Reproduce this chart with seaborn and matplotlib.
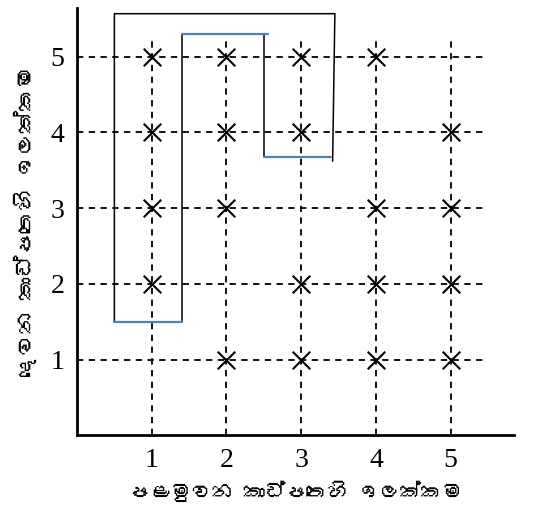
import matplotlib
matplotlib.use("Agg")
import matplotlib.pyplot as plt
from matplotlib import font_manager
from matplotlib.ft2font import FT2Font
import pandas as pd
import seaborn as sns

# grid of numbers shown on the chart
first_card = [1, 2, 3, 4, 1, 2, 3, 5, 1, 2, 4, 5, 1, 3, 4, 5, 2, 3, 4, 5]
second_card = [5, 5, 5, 5, 4, 4, 4, 4, 3, 3, 3, 3, 2, 2, 2, 2, 1, 1, 1, 1]
tick_values = [1, 2, 3, 4, 5]
x_label = "පළමුවන කාඩ්පතෙහි ඉලක්කම"
y_label = "දෙවන කාඩ්පතෙහි ඉලක්කම"

# outline around the chosen region: black sides, blue ends
black_x = [[0.5, 0.5, 3.45, 3.42], [1.4, 1.4], [2.5, 2.5]]
black_y = [[1.5, 5.57, 5.57, 3.62], [1.5, 5.3], [5.3, 3.67]]
blue_x = [[0.5, 1.4], [1.4, 2.55], [2.5, 3.4]]
blue_y = [[1.5, 1.5], [5.3, 5.3], [3.67, 3.67]]

sns.set_style("white")

# find a font that has Sinhala letters
sinhala_font = None
for f in font_manager.fontManager.ttflist:
    try:
        if 0x0DAF in FT2Font(f.fname).get_charmap():
            sinhala_font = f.name
            break
    except Exception:
        pass
label_family = [sinhala_font, "DejaVu Sans"] if sinhala_font else ["DejaVu Sans"]

df = pd.DataFrame({"first": first_card, "second": second_card})

fig = plt.figure(figsize=(5.5, 5.09), dpi=100)
ax = fig.add_axes([0.14, 0.145, 0.795, 0.84])

# dashed guide lines
for v in tick_values:
    ax.plot([0, 5.45], [v, v], color="black", ls=(0, (3.5, 3)), lw=1.3, zorder=1)
    ax.plot([v, v], [0, 5.27], color="black", ls=(0, (3.5, 3)), lw=1.3, zorder=1)

for xs, ys in zip(black_x, black_y):
    ax.plot(xs, ys, color="black", lw=1.1, zorder=2)
for xs, ys in zip(blue_x, blue_y):
    ax.plot(xs, ys, color="#4f81bd", lw=1.6, zorder=3)

sns.scatterplot(data=df, x="first", y="second", marker="x", s=160,
                color="black", linewidth=1.5, ax=ax, zorder=4)

ax.set_xlim(0, 5.85)
ax.set_ylim(0, 5.65)
ax.set_xticks(tick_values)
ax.set_yticks(tick_values)
ax.tick_params(length=0, labelsize=20, pad=9, labelcolor="black")
for lab in ax.get_xticklabels() + ax.get_yticklabels():
    lab.set_family("Liberation Serif")

ax.set_xlabel(x_label, family=label_family, fontsize=15, labelpad=6, color="black")
ax.set_ylabel(y_label, family=label_family, fontsize=16, labelpad=10, color="black")

for side in ["top", "right"]:
    ax.spines[side].set_visible(False)
for side in ["left", "bottom"]:
    ax.spines[side].set_color("black")
    ax.spines[side].set_linewidth(2)

plt.savefig("out.png", dpi=100)
